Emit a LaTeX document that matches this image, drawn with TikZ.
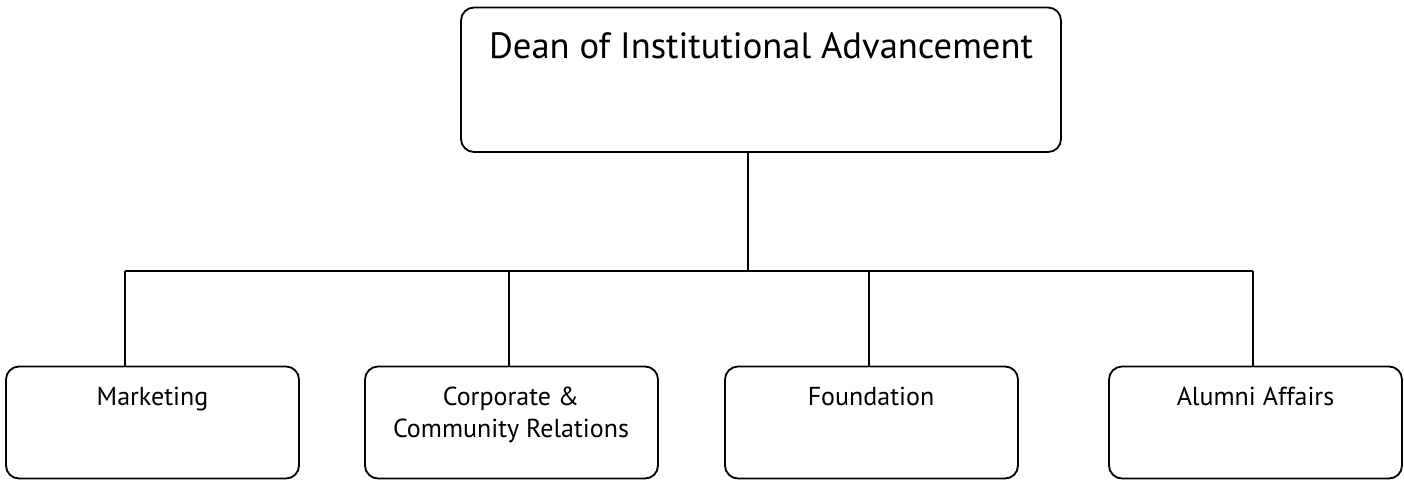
\documentclass[tikz,border=0pt]{standalone}
\usepackage{fontspec}
\setmainfont{PT Sans}
\begin{document}
\begin{tikzpicture}[x=1pt,y=-1pt,
  box/.style={draw=black,line width=1.8pt,rounded corners=13pt,inner sep=0pt},
  link/.style={draw=black,line width=1.5pt},
  toptxt/.style={anchor=base,inner sep=0pt,font=\fontsize{36.6}{40}\selectfont},
  subtxt/.style={anchor=base,inner sep=0pt,align=center,font=\fontsize{26}{32}\selectfont}]
\useasboundingbox (0,0) rectangle (1404,480);
% boxes
\node[box,minimum width=600pt,minimum height=144.5pt] (dean) at (761,79.75) {};
\node[box,minimum width=293pt,minimum height=112pt] (mkt) at (152.5,422.5) {};
\node[box,minimum width=293pt,minimum height=112pt] (ccr) at (511.5,422.5) {};
\node[box,minimum width=293pt,minimum height=112pt] (fnd) at (871.5,422.5) {};
\node[box,minimum width=293pt,minimum height=112pt] (alu) at (1255.5,422.5) {};
% texts
\node[toptxt] (deant) at (761,58) {Dean of Institutional Advancement};
\node[subtxt] (mktt) at (152.5,405) {Marketing};
\node[subtxt] (ccrt) at (511,437) {Corporate \&\\Community Relations};
\node[subtxt] (fndt) at (871,405) {Foundation};
\node[subtxt] (alut) at (1255.5,405) {Alumni Affairs};
% junctions
\coordinate (hub) at (748,271);
\coordinate (j1) at (125,271);
\coordinate (j2) at (509,271);
\coordinate (j3) at (869,271);
\coordinate (j4) at (1253,271);
% connectors
\draw[link] (hub |- dean.south) -- (hub);
\draw[link] (j1) -- (j4);
\draw[link] (j1) -- (j1 |- mkt.north);
\draw[link] (j2) -- (j2 |- ccr.north);
\draw[link] (j3) -- (j3 |- fnd.north);
\draw[link] (j4) -- (j4 |- alu.north);
\end{tikzpicture}
\end{document}
